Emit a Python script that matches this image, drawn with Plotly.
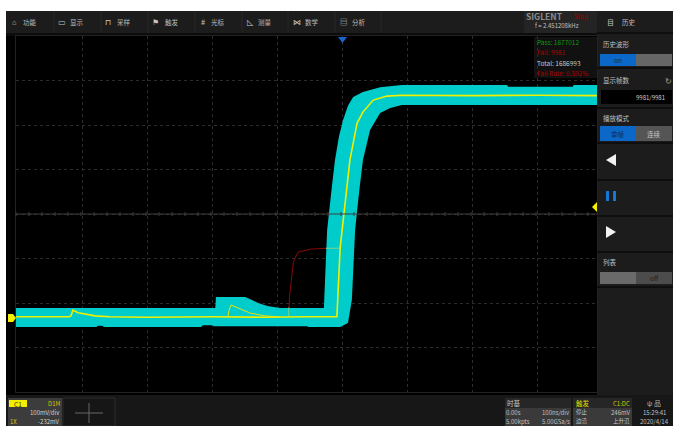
import plotly.graph_objects as go

W, H = 673, 426
CJK = "Noto Sans CJK SC, Liberation Sans, sans-serif"

# Persistence envelope (ns, mV)
upper_t = [-501.5, -195, -194, -149, -138.5, -129, -115, -95, -28, -26, -23, -16, -11, -5, 1.5, 9, 17, 32, 58.5, 92, 254, 255, 355, 356, 392]
upper_v = [21, 21, 45.5, 45.5, 38.8, 32, 25.3, 21, 21, 110, 196, 290, 353, 405, 443, 475, 495, 506, 517, 522, 522, 518, 518, 522, 522]
lower_t = [-501.5, -378, -375, -370, -365, -217, -214, -200, -197, -54, -52, -3, 9, 15, 20, 26, 32, 43, 58.5, 74, 92, 392]
lower_v = [-22, -22, -19, -19, -22, -22, -18, -18, -20, -20, -22, -22, -13, 39, 196, 280, 353, 421, 459, 470, 477, 477]

# Latest acquisition (yellow)
main_t = [-501.5, -420, -417, -414, -406, -395, -380, -357, -300, -200, -120, -60, -8, -3, 0, 12, 23, 32, 48, 69, 92, 200, 300, 392]
main_v = [1, 1, 3, 16, 10, 7, 3, 1, 0, 1, 0, 1, 1, 156, 196, 353, 436, 461, 488, 497, 499, 498, 499, 498]

# Secondary bump on the flat part
bump_t = [-175.5, -174, -171, -157, -141.5, -118.5, -95]
bump_v = [1, 15, 27.5, 18.5, 9.5, 3, 1]

# Failed frame: dim red over black, faint yellow over the band
fail_t = [-82, -81, -78, -75, -68, -49, -25, 5]
fail_v = [1, 45, 83, 124, 146, 153, 155, 155]
fail_over_t = [-82, -82, None, -25, -3]
fail_over_v = [1, 22, None, 155, 155]

# Text
menu_labels = ["功能", "显示", "采样", "触发", "光标", "测量", "数学", "分析"]
menu_icons = ["⌂", "▭", "⊓", "⚑", "#", "◺", "⋈", "▤"]
menu_text_x = [23, 70, 117, 165, 211, 258, 305, 352]
menu_icon_x = [14, 62, 108, 155, 203, 250, 297, 344]
stat_labels = ["Pass: 1677012", "Fail: 9981", "Total: 1686993", "Fail Rate: 0.592%"]
stat_colors = ["#0a9a0a", "#b00000", "#c8c8c8", "#b00000"]
stat_y = [42, 52, 63, 73]


def px(x):
    return x / W


def py(y):
    return 1 - y / H


def rect(x0, y0, x1, y1, fill, line=None):
    return dict(type="rect", xref="paper", yref="paper", layer="below",
                x0=px(x0), x1=px(x1), y0=py(y0), y1=py(y1), fillcolor=fill,
                line=dict(width=1 if line else 0, color=line or fill))


def poly(points, fill, layer="above"):
    p = "M" + " L".join(f"{px(a):.5f},{py(b):.5f}" for a, b in points) + " Z"
    return dict(type="path", xref="paper", yref="paper", layer=layer, path=p,
                fillcolor=fill, line=dict(width=0))


def hline(x0, x1, y, color, w=1, dash="solid"):
    return dict(type="line", xref="paper", yref="paper", layer="above", x0=px(x0), x1=px(x1),
                y0=py(y), y1=py(y), line=dict(color=color, width=w, dash=dash))


def vline(x, y0, y1, color, w=1, dash="solid"):
    return dict(type="line", xref="paper", yref="paper", layer="above", x0=px(x), x1=px(x),
                y0=py(y0), y1=py(y1), line=dict(color=color, width=w, dash=dash))


def txt(x, y, s, color="#b8b8b8", size=6.5, anchor="left", weight=None):
    t = f"<b>{s}</b>" if weight else s
    return dict(xref="paper", yref="paper", x=px(x), y=py(y), text=t, showarrow=False,
                xanchor=anchor, yanchor="middle", align=anchor,
                font=dict(family=CJK, size=size, color=color), borderpad=0, borderwidth=0)


PANEL = "#1c1c1c"
shapes = [
    rect(6, 11, 673, 426, PANEL),
    rect(6, 36, 597, 395, "#000000"),
    rect(6, 33, 597, 36, "#0c0c0c"),
    rect(524, 11, 597, 33, "#242424"),
    rect(534, 37, 597, 78, "#111111"),
]
for x in [54, 101, 148, 195, 242, 288, 335, 381]:
    shapes.append(vline(x, 11, 33, "#262626"))
for y in [33, 68, 108, 143, 180, 216, 252, 287]:
    shapes.append(hline(597, 673, y, "#0a0a0a", 1.5))

# right panel controls
shapes += [
    rect(600, 54, 636, 66, "#0c68c8"), rect(636, 54, 672, 66, "#666666"),
    rect(601, 90, 672, 104, "#000000"),
    rect(600, 126, 636, 141, "#0c68c8"), rect(636, 126, 672, 141, "#555555"),
    rect(600, 272, 636, 284, "#6a6a6a"), rect(636, 272, 672, 284, "#4c4c4c"),
    poly([(606, 160), (616, 154), (616, 166)], "#f2f2f2"),
    poly([(606, 226), (616, 232), (606, 238)], "#f2f2f2"),
    rect(606, 191, 609, 201, "#1478d8"), rect(613, 191, 616, 201, "#1478d8"),
]
# bottom panels
shapes += [
    rect(6, 395, 673, 426, "#171717"),
    rect(8, 398, 62, 426, "#3c3c3c"),
    rect(9, 400, 27, 407, "#f2f000"),
    rect(63, 398, 115, 426, "#161616", "#2c2c2c"),
    hline(75, 103, 413, "#666666"), vline(89, 403, 423, "#666666"),
    rect(505, 398, 571, 408, "#262626"), rect(505, 408, 571, 426, "#3a3a3a"),
    rect(573, 398, 632, 408, "#262626"), rect(573, 408, 632, 426, "#3a3a3a"),
]
# screen furniture
shapes += [
    hline(16, 597, 214, "#3c3c3c"),
    poly([(338, 37), (347, 37), (342.5, 43)], "#1e64c8"),
    poly([(597, 202), (597, 212), (592, 207)], "#f4f000"),
    poly([(8, 314), (13, 314), (16, 318), (13, 322), (8, 322)], "#f4f000"),
]
for k in range(0, 45):
    x = 16 + k * 13
    shapes.append(vline(x, 212, 216, "#3c3c3c"))

ann = []
for s, x in zip(menu_labels, menu_text_x):
    ann.append(txt(x, 22, s, "#bdbdbd", 6.5))
for s, x in zip(menu_icons, menu_icon_x):
    ann.append(txt(x, 21.5, s, "#c8c8c8", 7.5, "center"))
for s, c, y in zip(stat_labels, stat_colors, stat_y):
    ann.append(txt(537, y, s, c, 6.5))
ann += [
    txt(526, 16, "SIGLENT", "#8c8c8c", 8.5, weight=True),
    txt(574, 16, "Stop", "#a00000", 6.5),
    txt(535, 26, "f = 2.451208kHz", "#c0c0c0", 6),
    txt(610, 22, "目", "#c8c8c8", 7, "center"), txt(622, 22, "历史", "#c0c0c0", 6.5),
    txt(603, 44, "历史波形", "#c0c0c0", 6.5), txt(618, 60, "on", "#0a2a50", 6.5, "center"),
    txt(603, 80, "显示帧数", "#c0c0c0", 6.5), txt(668, 80, "↻", "#9a9a9a", 7.5, "center"),
    txt(665, 97, "9981/9981", "#d0d0d0", 6, "right"),
    txt(603, 118, "播放模式", "#c0c0c0", 6.5),
    txt(618, 133.5, "单帧", "#0a2a50", 6.5, "center"), txt(654, 133.5, "连续", "#c8c8c8", 6.5, "center"),
    txt(603, 262, "列表", "#c0c0c0", 6.5), txt(654, 278, "off", "#1c1c1c", 6.5, "center"),
    txt(18, 403.5, "C1", "#333300", 6.5, "center"), txt(60, 403.5, "D1M", "#c8c800", 6, "right"),
    txt(60, 412, "100mV/div", "#d0d0d0", 6, "right"),
    txt(10, 421, "1X", "#c8c800", 6), txt(60, 421, "-232mV", "#d0d0d0", 6, "right"),
    txt(507, 403, "时基", "#c8c8c8", 6.5),
    txt(506, 412, "0.00s", "#c0c0c0", 6), txt(570, 412, "100ns/div", "#c0c0c0", 6, "right"),
    txt(506, 421, "5.00kpts", "#c0c0c0", 6), txt(570, 421, "5.00GSa/s", "#c0c0c0", 6, "right"),
    txt(576, 403, "触发", "#e0e000", 6.5), txt(630, 403, "C1:DC", "#c8c800", 6, "right"),
    txt(576, 412, "停止", "#c8c8c8", 5.5), txt(630, 412, "246mV", "#c0c0c0", 6, "right"),
    txt(576, 421, "边沿", "#c8c8c8", 5.5), txt(630, 421, "上升沿", "#c8c8c8", 5.5, "right"),
    txt(654, 403, "ψ 品", "#b0b0b0", 7, "center"),
    txt(654, 412, "15:29:41", "#c0c0c0", 6, "center"),
    txt(654, 421, "2020/4/14", "#c0c0c0", 6, "center"),
]

fig = go.Figure()
fig.add_trace(go.Scatter(x=fail_t, y=fail_v, mode="lines", line=dict(color="#8a0a0a", width=1)))
fig.add_trace(go.Scatter(x=upper_t + lower_t[::-1], y=upper_v + lower_v[::-1], mode="lines",
                         fill="toself", fillcolor="#00cccc", line=dict(width=0)))
fig.add_trace(go.Scatter(x=fail_over_t, y=fail_over_v, mode="lines",
                         line=dict(color="#7fd080", width=1)))
fig.add_trace(go.Scatter(x=bump_t, y=bump_v, mode="lines", line=dict(color="#e4e410", width=1)))
fig.add_trace(go.Scatter(x=main_t, y=main_v, mode="lines", line=dict(color="#f0f000", width=1.6)))

grid = dict(showgrid=True, gridcolor="#2c2c2c", griddash="dot", gridwidth=1, zeroline=False,
            showticklabels=False, ticks="", showline=True, linecolor="#222222", mirror=True)
fig.update_layout(
    width=W, height=H, margin=dict(l=0, r=0, t=0, b=0), autosize=False,
    paper_bgcolor="#ffffff", plot_bgcolor="rgba(0,0,0,0)", showlegend=False,
    xaxis=dict(domain=[16 / W, 597 / W], range=[-501.5, 392], tick0=0, dtick=100, **grid),
    yaxis=dict(domain=[1 - 392 / H, 1 - 36 / H], range=[-168, 632], tick0=32, dtick=100, **grid),
    shapes=shapes, annotations=ann,
)
fig.write_html("out.html", config=dict(displayModeBar=False),
               post_script="document.body.style.margin='0';document.body.style.overflow='hidden';")
